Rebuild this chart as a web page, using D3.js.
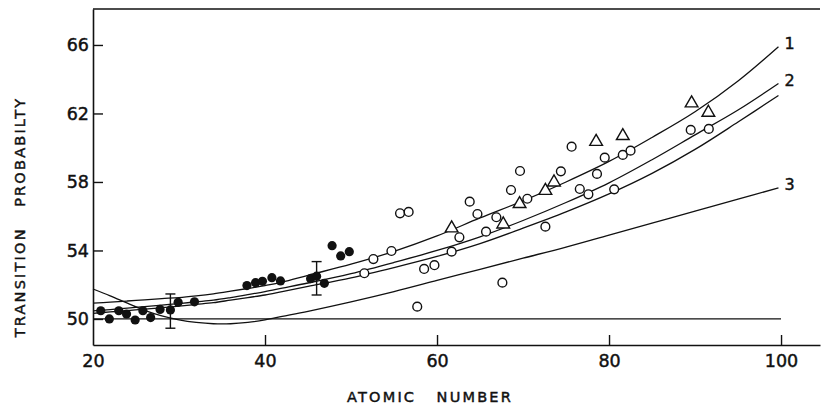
<!DOCTYPE html>
<html>
<head>
<meta charset="utf-8">
<script src="https://cdn.jsdelivr.net/npm/d3@7"></script>
<style>
  body { margin: 0; background: #fff; }
  svg text { font-family: "DejaVu Sans", sans-serif; fill: #111; stroke: #111; stroke-width: 0.45px; }
</style>
</head>
<body>
<svg id="chart" width="823" height="410"></svg>
<script>
// Theory curves (atomic number -> transition probability)
const curveZ = [20, 22, 24, 26, 28, 30, 32, 34, 36, 38, 40, 42, 45, 50, 55, 60, 65, 70, 75, 80, 85, 90, 95, 99.7];
const curve1 = [50.92, 50.98, 51.05, 51.12, 51.19, 51.25, 51.35, 51.47, 51.62, 51.78, 51.95, 52.15, 52.55, 53.2, 53.95, 54.85, 55.9, 56.9, 58.0, 59.2, 60.6, 62.1, 63.9, 65.9];
const curve2 = [50.47, 50.55, 50.63, 50.72, 50.81, 50.9, 51.0, 51.1, 51.25, 51.42, 51.6, 51.8, 52.1, 52.65, 53.3, 54.0, 54.8, 55.75, 56.8, 57.95, 59.3, 60.75, 62.2, 63.75];
const curve2b = [50.33, 50.41, 50.49, 50.57, 50.66, 50.75, 50.85, 50.95, 51.1, 51.25, 51.4, 51.6, 51.9, 52.4, 53.0, 53.65, 54.4, 55.3, 56.25, 57.3, 58.5, 59.9, 61.5, 63.05];
const curve3 = [51.75, 51.35, 50.92, 50.5, 50.18, 49.95, 49.8, 49.72, 49.72, 49.8, 49.95, 50.15, 50.45, 51.0, 51.6, 52.25, 52.9, 53.55, 54.2, 54.9, 55.6, 56.3, 57.0, 57.65];
const baseZ = [20, 100];
const baseP = [50, 50];
const curveNames = ["1", "2", "", "3"];

// Measured points
const filledZ = [20.9, 21.9, 23.0, 23.9, 24.9, 25.8, 26.7, 27.8, 29.0, 29.9, 31.8, 37.9, 38.9, 39.7, 40.8, 41.8, 45.3, 46.0, 46.9, 47.8, 48.8, 49.8];
const filledP = [50.48, 50.0, 50.48, 50.29, 49.94, 50.48, 50.08, 50.56, 50.53, 50.97, 51.0, 51.95, 52.12, 52.2, 52.41, 52.22, 52.35, 52.5, 52.08, 54.28, 53.68, 53.93];
const openZ = [51.55, 52.6, 54.7, 55.7, 56.7, 57.7, 58.5, 59.7, 61.7, 62.6, 63.8, 64.7, 65.7, 66.9, 67.6, 68.6, 69.65, 70.5, 72.6, 74.4, 75.65, 76.6, 77.6, 78.6, 79.5, 80.6, 81.6, 82.5, 89.5, 91.6];
const openP = [52.67, 53.5, 53.97, 56.17, 56.25, 50.72, 52.92, 53.14, 53.93, 54.77, 56.85, 56.13, 55.1, 55.94, 52.12, 57.53, 58.64, 57.02, 55.39, 58.62, 60.06, 57.59, 57.28, 58.47, 59.42, 57.57, 59.58, 59.83, 61.04, 61.1];
const triZ = [61.7, 67.7, 69.6, 72.6, 73.6, 78.5, 81.6, 89.6, 91.55];
const triP = [55.3, 55.53, 56.72, 57.49, 57.98, 60.35, 60.69, 62.6, 62.05];

// Error bars
const errZ = [29.0, 46.0];
const errLo = [49.46, 51.4];
const errHi = [51.46, 53.35];

const xTicks = [20, 40, 60, 80, 100];
const yTicks = [50, 54, 58, 62, 66];

const svg = d3.select("#chart");
const padL = 93, padR = 820, padT = 9, padB = 345;

const x = d3.scaleLinear().domain([20, 104.53]).range([padL, padR]);
const y = d3.scaleLinear().domain([48.48, 68.1]).range([padB, padT]);

// Frame (left, top, bottom; open on the right)
svg.append("line")
    .attr("x1", padL).attr("x2", padR)
    .attr("y1", padT).attr("y2", padT)
    .attr("stroke", "#111").attr("stroke-width", 1.6);

const xAxis = svg.append("g")
    .attr("transform", `translate(0,${padB})`)
    .call(d3.axisBottom(x).tickValues(xTicks).tickSizeInner(-10).tickSizeOuter(0).tickPadding(10));
const yAxis = svg.append("g")
    .attr("transform", `translate(${padL},0)`)
    .call(d3.axisLeft(y).tickValues(yTicks).tickSizeInner(-10).tickSizeOuter(0).tickPadding(4));

[xAxis, yAxis].forEach(a => {
    a.select(".domain").attr("stroke", "#111").attr("stroke-width", 1.6);
    a.selectAll(".tick line").attr("stroke", "#111").attr("stroke-width", 1.4);
    a.selectAll(".tick text")
        .attr("font-family", "DejaVu Sans, sans-serif")
        .attr("font-size", 17.5)
        .attr("fill", "#111");
});
xAxis.select(".tick line").remove(); // the 20 tick sits on the y axis

// Axis titles
svg.append("text")
    .attr("x", 430).attr("y", 402)
    .attr("text-anchor", "middle")
    .attr("font-size", 14.5)
    .attr("letter-spacing", 2.2)
    .style("white-space", "pre")
    .text("ATOMIC   NUMBER");

svg.append("text")
    .attr("transform", "translate(25,217) rotate(-90)")
    .attr("text-anchor", "middle")
    .attr("font-size", 14.5)
    .attr("letter-spacing", 2.2)
    .style("white-space", "pre")
    .text("TRANSITION   PROBABILTY");

// Curves
const line = d3.line()
    .x(d => x(d[0]))
    .y(d => y(d[1]))
    .curve(d3.curveCatmullRom);

const curves = [curve1, curve2, curve2b, curve3];
curves.forEach((c, i) => {
    const pts = curveZ.map((z, j) => [z, c[j]]);
    svg.append("path")
        .attr("d", line(pts))
        .attr("fill", "none")
        .attr("stroke", "#111")
        .attr("stroke-width", 1.3);
    if (curveNames[i]) {
        svg.append("text")
            .attr("x", x(curveZ[curveZ.length - 1]) + 6)
            .attr("y", y(c[c.length - 1]) - 2)
            .attr("dominant-baseline", "middle")
            .attr("font-size", 16)
            .text(curveNames[i]);
    }
});

svg.append("path")
    .attr("d", line(baseZ.map((z, j) => [z, baseP[j]])))
    .attr("fill", "none")
    .attr("stroke", "#111")
    .attr("stroke-width", 1.3);

// Error bars
errZ.forEach((z, i) => {
    const g = svg.append("g").attr("stroke", "#111").attr("stroke-width", 1.4);
    g.append("line").attr("x1", x(z)).attr("x2", x(z)).attr("y1", y(errLo[i])).attr("y2", y(errHi[i]));
    g.append("line").attr("x1", x(z) - 5).attr("x2", x(z) + 5).attr("y1", y(errLo[i])).attr("y2", y(errLo[i]));
    g.append("line").attr("x1", x(z) - 5).attr("x2", x(z) + 5).attr("y1", y(errHi[i])).attr("y2", y(errHi[i]));
});

// Points
svg.append("g").selectAll("circle")
    .data(filledZ.map((z, i) => [z, filledP[i]]))
    .enter().append("circle")
    .attr("cx", d => x(d[0]))
    .attr("cy", d => y(d[1]))
    .attr("r", 4.6)
    .attr("fill", "#111");

svg.append("g").selectAll("circle")
    .data(openZ.map((z, i) => [z, openP[i]]))
    .enter().append("circle")
    .attr("cx", d => x(d[0]))
    .attr("cy", d => y(d[1]))
    .attr("r", 4.4)
    .attr("fill", "#fff")
    .attr("stroke", "#111")
    .attr("stroke-width", 1.4);

const tri = d3.symbol().type(d3.symbolTriangle).size(70);
svg.append("g").selectAll("path")
    .data(triZ.map((z, i) => [z, triP[i]]))
    .enter().append("path")
    .attr("d", tri)
    .attr("transform", d => `translate(${x(d[0])},${y(d[1])})`)
    .attr("fill", "#fff")
    .attr("stroke", "#111")
    .attr("stroke-width", 1.4);
</script>
</body>
</html>
